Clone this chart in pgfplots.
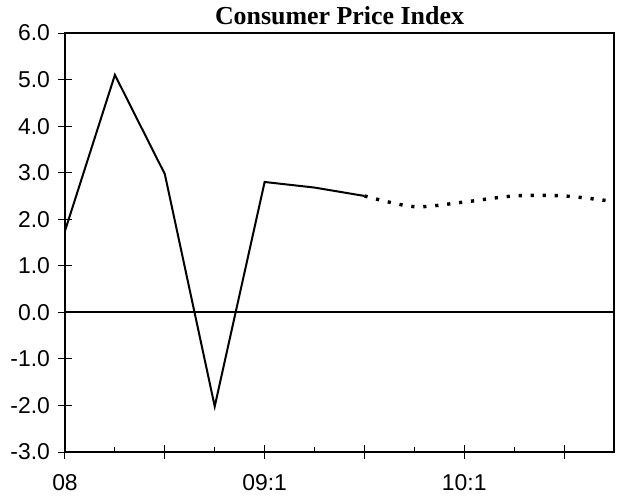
\documentclass[border=0pt]{standalone}
\usepackage{fontspec}
\setmainfont{Liberation Sans}
\newfontfamily\titlefont{Liberation Serif}
\usepackage{pgfplots}
\pgfplotsset{compat=1.18}
\begin{document}
\begin{tikzpicture}
\path[use as bounding box] (-32.5bp,-25bp) rectangle (278bp,226bp);
\begin{axis}[
  at={(0,0)}, anchor=south west,
  scale only axis, width=274.5bp, height=209.5bp,
  xmin=0, xmax=11, ymin=-3, ymax=6,
  axis line style={line width=0.6bp},
  xtick={0,2,4,6,8,10},
  xticklabels={08,,09:1,,10:1,},
  minor xtick={1,3,5,7,9},
  ytick={-3,-2,-1,0,1,2,3,4,5,6},
  yticklabels={-3.0,-2.0,-1.0,0.0,1.0,2.0,3.0,4.0,5.0,6.0},
  x tick label style={font=\fontsize{11.5}{13}\selectfont, yshift=-7.5bp},
  y tick label style={font=\fontsize{11.5}{13}\selectfont, xshift=-4bp},
  major tick length=7bp,
  minor tick length=2.5bp,
  tick style={black, line width=0.5bp},
  xtick pos=bottom, ytick pos=left,
  major x tick style={/pgfplots/tick align=center},
  minor x tick style={/pgfplots/tick align=inside},
  major y tick style={/pgfplots/tick align=center},
  title={\titlefont\bfseries Consumer Price Index},
  title style={font=\fontsize{13}{15}\selectfont, at={(0.5,1)}, anchor=south, yshift=-5.5bp},
  clip=false,
]
\addplot[black, line width=1bp, forget plot] coordinates {(0,0) (11,0)};
\addplot[black, line width=1bp] coordinates {
  (0,1.75) (1,5.1) (2,2.97) (3,-2.02) (4,2.8) (5,2.68) (6,2.5)
};
\addplot[black, line width=1.7bp, dash pattern=on 1.6bp off 4.4bp, smooth, tension=0.5] coordinates {
  (6,2.5) (7,2.27) (8,2.37) (9,2.5) (10,2.5) (11,2.38)
};
\end{axis}
\end{tikzpicture}
\end{document}
